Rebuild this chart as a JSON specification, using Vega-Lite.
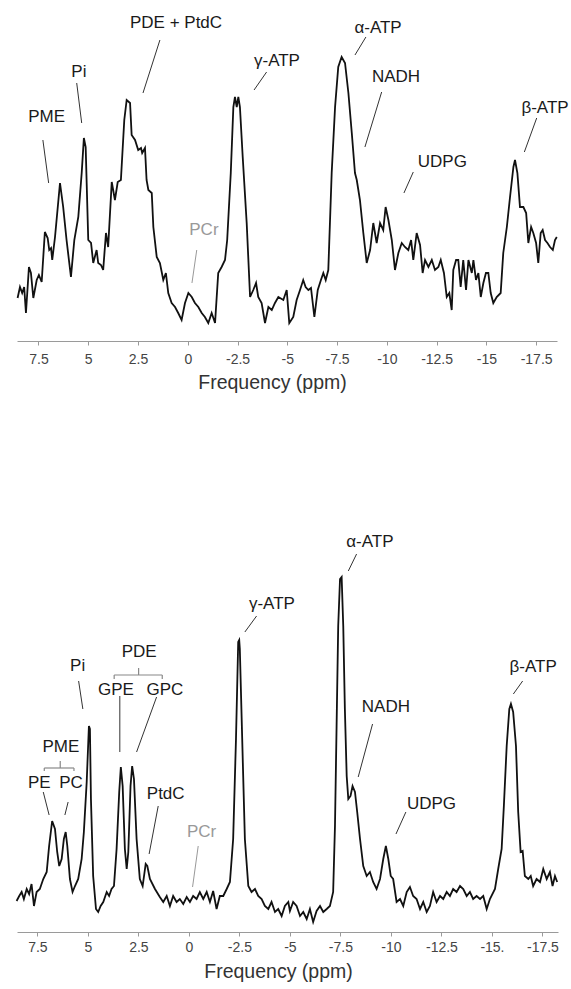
{
  "$schema": "https://vega.github.io/schema/vega-lite/v6.json",
  "padding": {"left": 12, "top": 5, "right": 5, "bottom": 5},
  "background": "white",
  "spacing": 137,
  "config": {
    "view": {"stroke": null},
    "font": "Liberation Sans",
    "axis": {"grid": false, "domainColor": "#9a9a9a", "tickColor": "#9a9a9a", "tickSize": 4, "labelFont": "Liberation Sans", "labelFontSize": 14, "labelColor": "#444", "titleFont": "Liberation Sans", "titleFontSize": 19.5, "titleFontWeight": "normal", "titleColor": "#333", "titleAlign": "center", "titleAnchor": "start"}
  },
  "datasets": {
    "top": [
      {"ppm":8.55,"i":43},{"ppm":8.43,"i":54},{"ppm":8.32,"i":48},{"ppm":8.22,"i":54},{"ppm":8.13,"i":28},{"ppm":7.98,"i":74},{"ppm":7.88,"i":68},{"ppm":7.76,"i":43},{"ppm":7.59,"i":61},{"ppm":7.48,"i":66},{"ppm":7.34,"i":59},{"ppm":7.18,"i":109},{"ppm":7.04,"i":103},{"ppm":6.96,"i":91},{"ppm":6.87,"i":93},{"ppm":6.81,"i":81},{"ppm":6.67,"i":104},{"ppm":6.42,"i":158},{"ppm":6.26,"i":134},{"ppm":6.09,"i":101},{"ppm":5.87,"i":64},{"ppm":5.70,"i":101},{"ppm":5.50,"i":124},{"ppm":5.33,"i":168},{"ppm":5.22,"i":203},{"ppm":5.13,"i":194},{"ppm":5.00,"i":101},{"ppm":4.86,"i":98},{"ppm":4.75,"i":78},{"ppm":4.58,"i":91},{"ppm":4.50,"i":78},{"ppm":4.36,"i":76},{"ppm":4.25,"i":71},{"ppm":4.11,"i":108},{"ppm":4.00,"i":94},{"ppm":3.82,"i":159},{"ppm":3.66,"i":141},{"ppm":3.52,"i":159},{"ppm":3.36,"i":161},{"ppm":3.19,"i":221},{"ppm":3.07,"i":241},{"ppm":2.90,"i":238},{"ppm":2.82,"i":206},{"ppm":2.65,"i":201},{"ppm":2.49,"i":191},{"ppm":2.35,"i":193},{"ppm":2.29,"i":188},{"ppm":2.15,"i":193},{"ppm":2.07,"i":161},{"ppm":1.98,"i":151},{"ppm":1.81,"i":148},{"ppm":1.73,"i":114},{"ppm":1.56,"i":84},{"ppm":1.40,"i":78},{"ppm":1.23,"i":61},{"ppm":1.10,"i":68},{"ppm":0.98,"i":48},{"ppm":0.81,"i":38},{"ppm":0.64,"i":34},{"ppm":0.48,"i":28},{"ppm":0.31,"i":21},{"ppm":0.14,"i":38},{"ppm":-0.03,"i":48},{"ppm":-0.20,"i":44},{"ppm":-0.36,"i":38},{"ppm":-0.53,"i":34},{"ppm":-0.70,"i":28},{"ppm":-0.86,"i":24},{"ppm":-1.03,"i":18},{"ppm":-1.20,"i":28},{"ppm":-1.37,"i":18},{"ppm":-1.53,"i":68},{"ppm":-1.70,"i":74},{"ppm":-1.87,"i":81},{"ppm":-1.98,"i":101},{"ppm":-2.16,"i":168},{"ppm":-2.29,"i":234},{"ppm":-2.37,"i":244},{"ppm":-2.46,"i":234},{"ppm":-2.54,"i":244},{"ppm":-2.62,"i":234},{"ppm":-2.76,"i":184},{"ppm":-2.96,"i":118},{"ppm":-3.13,"i":44},{"ppm":-3.29,"i":51},{"ppm":-3.43,"i":58},{"ppm":-3.54,"i":44},{"ppm":-3.71,"i":38},{"ppm":-3.88,"i":18},{"ppm":-4.05,"i":34},{"ppm":-4.22,"i":31},{"ppm":-4.38,"i":38},{"ppm":-4.55,"i":44},{"ppm":-4.80,"i":41},{"ppm":-4.97,"i":51},{"ppm":-5.10,"i":18},{"ppm":-5.30,"i":24},{"ppm":-5.47,"i":41},{"ppm":-5.64,"i":51},{"ppm":-5.80,"i":61},{"ppm":-5.92,"i":54},{"ppm":-6.06,"i":51},{"ppm":-6.19,"i":53},{"ppm":-6.36,"i":24},{"ppm":-6.53,"i":51},{"ppm":-6.69,"i":61},{"ppm":-6.81,"i":68},{"ppm":-6.93,"i":61},{"ppm":-7.06,"i":71},{"ppm":-7.23,"i":168},{"ppm":-7.40,"i":234},{"ppm":-7.56,"i":274},{"ppm":-7.73,"i":284},{"ppm":-7.90,"i":278},{"ppm":-8.07,"i":248},{"ppm":-8.24,"i":208},{"ppm":-8.40,"i":168},{"ppm":-8.49,"i":161},{"ppm":-8.65,"i":141},{"ppm":-8.82,"i":108},{"ppm":-8.99,"i":78},{"ppm":-9.16,"i":91},{"ppm":-9.32,"i":118},{"ppm":-9.49,"i":98},{"ppm":-9.66,"i":118},{"ppm":-9.82,"i":111},{"ppm":-9.94,"i":134},{"ppm":-10.08,"i":121},{"ppm":-10.25,"i":101},{"ppm":-10.41,"i":71},{"ppm":-10.58,"i":88},{"ppm":-10.75,"i":98},{"ppm":-10.91,"i":94},{"ppm":-11.08,"i":91},{"ppm":-11.22,"i":101},{"ppm":-11.33,"i":81},{"ppm":-11.50,"i":108},{"ppm":-11.67,"i":96},{"ppm":-11.80,"i":68},{"ppm":-11.92,"i":81},{"ppm":-12.09,"i":74},{"ppm":-12.26,"i":81},{"ppm":-12.42,"i":71},{"ppm":-12.59,"i":74},{"ppm":-12.71,"i":81},{"ppm":-12.87,"i":68},{"ppm":-13.01,"i":44},{"ppm":-13.14,"i":48},{"ppm":-13.26,"i":31},{"ppm":-13.34,"i":71},{"ppm":-13.48,"i":81},{"ppm":-13.59,"i":81},{"ppm":-13.71,"i":54},{"ppm":-13.84,"i":81},{"ppm":-13.98,"i":51},{"ppm":-14.10,"i":81},{"ppm":-14.27,"i":68},{"ppm":-14.35,"i":81},{"ppm":-14.48,"i":61},{"ppm":-14.60,"i":68},{"ppm":-14.72,"i":44},{"ppm":-14.85,"i":58},{"ppm":-14.98,"i":68},{"ppm":-15.10,"i":68},{"ppm":-15.22,"i":48},{"ppm":-15.35,"i":38},{"ppm":-15.52,"i":44},{"ppm":-15.72,"i":48},{"ppm":-15.85,"i":88},{"ppm":-16.03,"i":114},{"ppm":-16.19,"i":144},{"ppm":-16.36,"i":174},{"ppm":-16.44,"i":181},{"ppm":-16.56,"i":168},{"ppm":-16.69,"i":134},{"ppm":-16.86,"i":134},{"ppm":-17.00,"i":128},{"ppm":-17.11,"i":98},{"ppm":-17.25,"i":114},{"ppm":-17.36,"i":108},{"ppm":-17.50,"i":98},{"ppm":-17.61,"i":78},{"ppm":-17.73,"i":108},{"ppm":-17.83,"i":111},{"ppm":-17.95,"i":101},{"ppm":-18.07,"i":98},{"ppm":-18.20,"i":94},{"ppm":-18.34,"i":91},{"ppm":-18.45,"i":101},{"ppm":-18.54,"i":104}
    ],
    "bottom": [
      {"ppm":8.53,"i":31},{"ppm":8.40,"i":36},{"ppm":8.28,"i":40},{"ppm":8.17,"i":33},{"ppm":8.03,"i":43},{"ppm":7.91,"i":38},{"ppm":7.79,"i":48},{"ppm":7.67,"i":26},{"ppm":7.54,"i":40},{"ppm":7.38,"i":43},{"ppm":7.21,"i":53},{"ppm":7.04,"i":60},{"ppm":6.92,"i":86},{"ppm":6.77,"i":111},{"ppm":6.63,"i":103},{"ppm":6.52,"i":80},{"ppm":6.42,"i":66},{"ppm":6.30,"i":73},{"ppm":6.19,"i":93},{"ppm":6.10,"i":100},{"ppm":6.02,"i":86},{"ppm":5.89,"i":53},{"ppm":5.76,"i":40},{"ppm":5.64,"i":46},{"ppm":5.48,"i":53},{"ppm":5.31,"i":73},{"ppm":5.20,"i":100},{"ppm":5.06,"i":150},{"ppm":4.95,"i":206},{"ppm":4.90,"i":203},{"ppm":4.85,"i":133},{"ppm":4.74,"i":56},{"ppm":4.60,"i":23},{"ppm":4.49,"i":20},{"ppm":4.37,"i":26},{"ppm":4.24,"i":30},{"ppm":4.07,"i":40},{"ppm":3.95,"i":36},{"ppm":3.83,"i":43},{"ppm":3.71,"i":46},{"ppm":3.58,"i":83},{"ppm":3.45,"i":140},{"ppm":3.37,"i":165},{"ppm":3.28,"i":146},{"ppm":3.17,"i":83},{"ppm":3.08,"i":63},{"ppm":3.00,"i":80},{"ppm":2.89,"i":146},{"ppm":2.81,"i":166},{"ppm":2.72,"i":153},{"ppm":2.59,"i":93},{"ppm":2.43,"i":53},{"ppm":2.29,"i":46},{"ppm":2.14,"i":68},{"ppm":2.06,"i":66},{"ppm":1.93,"i":53},{"ppm":1.68,"i":43},{"ppm":1.44,"i":35},{"ppm":1.27,"i":30},{"ppm":1.10,"i":36},{"ppm":0.94,"i":26},{"ppm":0.78,"i":36},{"ppm":0.61,"i":30},{"ppm":0.45,"i":33},{"ppm":0.28,"i":28},{"ppm":0.11,"i":35},{"ppm":-0.05,"i":30},{"ppm":-0.21,"i":36},{"ppm":-0.38,"i":33},{"ppm":-0.54,"i":40},{"ppm":-0.71,"i":33},{"ppm":-0.88,"i":40},{"ppm":-1.04,"i":30},{"ppm":-1.20,"i":41},{"ppm":-1.37,"i":23},{"ppm":-1.53,"i":36},{"ppm":-1.70,"i":36},{"ppm":-1.87,"i":43},{"ppm":-2.03,"i":50},{"ppm":-2.19,"i":93},{"ppm":-2.33,"i":193},{"ppm":-2.44,"i":290},{"ppm":-2.49,"i":292},{"ppm":-2.52,"i":283},{"ppm":-2.66,"i":176},{"ppm":-2.77,"i":93},{"ppm":-2.94,"i":46},{"ppm":-3.10,"i":40},{"ppm":-3.27,"i":43},{"ppm":-3.43,"i":36},{"ppm":-3.60,"i":33},{"ppm":-3.76,"i":26},{"ppm":-3.93,"i":23},{"ppm":-4.09,"i":30},{"ppm":-4.26,"i":20},{"ppm":-4.42,"i":23},{"ppm":-4.59,"i":16},{"ppm":-4.75,"i":26},{"ppm":-4.92,"i":30},{"ppm":-5.00,"i":21},{"ppm":-5.16,"i":30},{"ppm":-5.33,"i":26},{"ppm":-5.50,"i":16},{"ppm":-5.66,"i":20},{"ppm":-5.83,"i":13},{"ppm":-5.99,"i":23},{"ppm":-6.15,"i":10},{"ppm":-6.32,"i":21},{"ppm":-6.49,"i":26},{"ppm":-6.65,"i":20},{"ppm":-6.82,"i":23},{"ppm":-6.98,"i":26},{"ppm":-7.14,"i":40},{"ppm":-7.23,"i":106},{"ppm":-7.31,"i":206},{"ppm":-7.39,"i":306},{"ppm":-7.48,"i":353},{"ppm":-7.56,"i":355},{"ppm":-7.64,"i":306},{"ppm":-7.72,"i":223},{"ppm":-7.81,"i":156},{"ppm":-7.89,"i":133},{"ppm":-8.00,"i":136},{"ppm":-8.10,"i":146},{"ppm":-8.22,"i":140},{"ppm":-8.33,"i":120},{"ppm":-8.47,"i":93},{"ppm":-8.63,"i":66},{"ppm":-8.80,"i":56},{"ppm":-8.96,"i":60},{"ppm":-9.12,"i":50},{"ppm":-9.29,"i":43},{"ppm":-9.46,"i":53},{"ppm":-9.62,"i":73},{"ppm":-9.75,"i":86},{"ppm":-9.87,"i":73},{"ppm":-9.99,"i":56},{"ppm":-10.11,"i":53},{"ppm":-10.28,"i":30},{"ppm":-10.45,"i":33},{"ppm":-10.61,"i":26},{"ppm":-10.78,"i":40},{"ppm":-10.94,"i":45},{"ppm":-11.10,"i":36},{"ppm":-11.27,"i":33},{"ppm":-11.44,"i":23},{"ppm":-11.60,"i":30},{"ppm":-11.77,"i":20},{"ppm":-11.93,"i":26},{"ppm":-12.09,"i":40},{"ppm":-12.26,"i":30},{"ppm":-12.43,"i":36},{"ppm":-12.59,"i":33},{"ppm":-12.76,"i":40},{"ppm":-12.92,"i":36},{"ppm":-13.08,"i":43},{"ppm":-13.25,"i":40},{"ppm":-13.42,"i":46},{"ppm":-13.58,"i":43},{"ppm":-13.75,"i":36},{"ppm":-13.91,"i":40},{"ppm":-14.07,"i":33},{"ppm":-14.24,"i":36},{"ppm":-14.41,"i":33},{"ppm":-14.57,"i":36},{"ppm":-14.74,"i":23},{"ppm":-14.90,"i":33},{"ppm":-15.15,"i":43},{"ppm":-15.31,"i":63},{"ppm":-15.48,"i":83},{"ppm":-15.59,"i":126},{"ppm":-15.73,"i":186},{"ppm":-15.86,"i":223},{"ppm":-15.94,"i":228},{"ppm":-16.05,"i":220},{"ppm":-16.19,"i":186},{"ppm":-16.30,"i":120},{"ppm":-16.42,"i":80},{"ppm":-16.52,"i":81},{"ppm":-16.63,"i":56},{"ppm":-16.80,"i":53},{"ppm":-16.92,"i":56},{"ppm":-17.04,"i":46},{"ppm":-17.21,"i":53},{"ppm":-17.38,"i":50},{"ppm":-17.54,"i":63},{"ppm":-17.71,"i":53},{"ppm":-17.87,"i":60},{"ppm":-18.00,"i":46},{"ppm":-18.12,"i":56},{"ppm":-18.23,"i":50}
    ],
    "topLabels": [
      {"label":"PME","ppm":7.09,"i":224},{"label":"Pi","ppm":5.47,"i":269},{"label":"PDE + PtdC","ppm":0.59,"i":318},{"label":"γ-ATP","ppm":-4.48,"i":280},{"label":"PCr","ppm":-0.81,"i":111},{"label":"α-ATP","ppm":-9.56,"i":313},{"label":"NADH","ppm":-10.46,"i":264},{"label":"UDPG","ppm":-12.79,"i":179},{"label":"β-ATP","ppm":-17.95,"i":233}
    ],
    "topLeaders": [
      {"label":"PME","ppm1":7.28,"i1":201,"ppm2":6.99,"i2":158},{"label":"Pi","ppm1":5.58,"i1":258,"ppm2":5.33,"i2":218},{"label":"PDE + PtdC","ppm1":1.40,"i1":301,"ppm2":2.25,"i2":248},{"label":"γ-ATP","ppm1":-3.96,"i1":269,"ppm2":-3.33,"i2":251},{"label":"PCr","ppm1":-0.45,"i1":91,"ppm2":-0.21,"i2":58},{"label":"α-ATP","ppm1":-8.95,"i1":304,"ppm2":-8.40,"i2":286},{"label":"NADH","ppm1":-9.74,"i1":249,"ppm2":-8.90,"i2":194},{"label":"UDPG","ppm1":-11.33,"i1":169,"ppm2":-10.86,"i2":148},{"label":"β-ATP","ppm1":-17.53,"i1":223,"ppm2":-16.91,"i2":189}
    ],
    "bottomLabels": [
      {"label":"Pi","ppm":5.51,"i":266},{"label":"PDE","ppm":2.46,"i":280},{"label":"GPE","ppm":3.61,"i":242},{"label":"GPC","ppm":1.19,"i":242},{"label":"PME","ppm":6.34,"i":185},{"label":"PE","ppm":7.41,"i":149},{"label":"PC","ppm":5.84,"i":149},{"label":"PtdC","ppm":1.15,"i":138},{"label":"PCr","ppm":-0.63,"i":100},{"label":"γ-ATP","ppm":-4.11,"i":328},{"label":"α-ATP","ppm":-8.96,"i":390},{"label":"NADH","ppm":-9.75,"i":225},{"label":"UDPG","ppm":-12.01,"i":128},{"label":"β-ATP","ppm":-17.04,"i":265}
    ],
    "bottomLeaders": [
      {"label":"Pi","ppm1":5.46,"i1":251,"ppm2":5.25,"i2":223},{"label":"GPE","ppm1":3.42,"i1":236,"ppm2":3.42,"i2":180},{"label":"GPC","ppm1":1.60,"i1":235,"ppm2":2.59,"i2":180},{"label":"PE","ppm1":7.21,"i1":140,"ppm2":6.92,"i2":117},{"label":"PC","ppm1":5.98,"i1":130,"ppm2":6.14,"i2":117},{"label":"PtdC","ppm1":1.52,"i1":126,"ppm2":1.97,"i2":78},{"label":"PCr","ppm1":-0.46,"i1":86,"ppm2":-0.18,"i2":45},{"label":"γ-ATP","ppm1":-3.35,"i1":316,"ppm2":-2.77,"i2":300},{"label":"α-ATP","ppm1":-8.30,"i1":378,"ppm2":-7.89,"i2":361},{"label":"NADH","ppm1":-9.09,"i1":208,"ppm2":-8.38,"i2":155},{"label":"UDPG","ppm1":-10.74,"i1":120,"ppm2":-10.25,"i2":98},{"label":"β-ATP","ppm1":-16.52,"i1":251,"ppm2":-16.06,"i2":238}
    ],
    "brackets": [
      {"group":"PDE","ppm1":3.70,"i1":257,"ppm2":1.32,"i2":257},{"group":"PDE","ppm1":2.49,"i1":264,"ppm2":2.49,"i2":257},{"group":"PDE","ppm1":3.70,"i1":257,"ppm2":3.70,"i2":253},{"group":"PDE","ppm1":1.32,"i1":257,"ppm2":1.32,"i2":253},
      {"group":"PME","ppm1":7.16,"i1":164,"ppm2":5.69,"i2":164},{"group":"PME","ppm1":6.37,"i1":171,"ppm2":6.37,"i2":164},{"group":"PME","ppm1":7.16,"i1":164,"ppm2":7.16,"i2":161},{"group":"PME","ppm1":5.69,"i1":164,"ppm2":5.69,"i2":161}
    ]
  },
  "vconcat": [
    {
      "width": 540,
      "height": 336,
      "layer": [
        {
          "data": {"name": "top"},
          "mark": {"type": "line", "color": "#111", "strokeWidth": 1.8},
          "encoding": {
            "x": {"field": "ppm", "type": "quantitative", "scale": {"domain": [8.58, -18.55], "nice": false, "zero": false},
                  "axis": {"title": "Frequency (ppm)", "values": [7.5, 5, 2.5, 0, -2.5, -5, -7.5, -10, -12.5, -15, -17.5], "labelExpr": "'' + datum.value", "labelPadding": 7, "titlePadding": 7, "titleX": 255}},
            "y": {"field": "i", "type": "quantitative", "scale": {"domain": [0, 336], "nice": false, "zero": false}, "axis": null}
          }
        },
        {
          "data": {"name": "topLeaders"},
          "transform": [{"filter": "datum.label != 'PCr'"}],
          "mark": {"type": "rule", "color": "#333", "strokeWidth": 1},
          "encoding": {
            "x": {"field": "ppm1", "type": "quantitative", "scale": {"domain": [8.58, -18.55], "nice": false, "zero": false},
                  "axis": {"title": "Frequency (ppm)", "values": [7.5, 5, 2.5, 0, -2.5, -5, -7.5, -10, -12.5, -15, -17.5], "labelExpr": "'' + datum.value", "labelPadding": 7, "titlePadding": 7, "titleX": 255}},
            "x2": {"field": "ppm2"},
            "y": {"field": "i1", "type": "quantitative", "scale": {"domain": [0, 336], "nice": false, "zero": false}, "axis": null},
            "y2": {"field": "i2"}
          }
        },
        {
          "data": {"name": "topLeaders"},
          "transform": [{"filter": "datum.label == 'PCr'"}],
          "mark": {"type": "rule", "color": "#999", "strokeWidth": 1},
          "encoding": {
            "x": {"field": "ppm1", "type": "quantitative", "scale": {"domain": [8.58, -18.55], "nice": false, "zero": false},
                  "axis": {"title": "Frequency (ppm)", "values": [7.5, 5, 2.5, 0, -2.5, -5, -7.5, -10, -12.5, -15, -17.5], "labelExpr": "'' + datum.value", "labelPadding": 7, "titlePadding": 7, "titleX": 255}},
            "x2": {"field": "ppm2"},
            "y": {"field": "i1", "type": "quantitative", "scale": {"domain": [0, 336], "nice": false, "zero": false}, "axis": null},
            "y2": {"field": "i2"}
          }
        },
        {
          "data": {"name": "topLabels"},
          "mark": {"type": "text", "fontSize": 17, "baseline": "middle", "align": "center", "font": "Liberation Sans"},
          "encoding": {
            "x": {"field": "ppm", "type": "quantitative", "scale": {"domain": [8.58, -18.55], "nice": false, "zero": false},
                  "axis": {"title": "Frequency (ppm)", "values": [7.5, 5, 2.5, 0, -2.5, -5, -7.5, -10, -12.5, -15, -17.5], "labelExpr": "'' + datum.value", "labelPadding": 7, "titlePadding": 7, "titleX": 255}},
            "y": {"field": "i", "type": "quantitative", "scale": {"domain": [0, 336], "nice": false, "zero": false}, "axis": null},
            "text": {"field": "label"},
            "color": {"condition": {"test": "datum.label == 'PCr'", "value": "#999"}, "value": "#1a1a1a"}
          }
        }
      ]
    },
    {
      "width": 541,
      "height": 403,
      "layer": [
        {
          "data": {"name": "bottom"},
          "mark": {"type": "line", "color": "#111", "strokeWidth": 1.8},
          "encoding": {
            "x": {"field": "ppm", "type": "quantitative", "scale": {"domain": [8.51, -18.27], "nice": false, "zero": false},
                  "axis": {"title": "Frequency (ppm)", "values": [7.5, 5, 2.5, 0, -2.5, -5, -7.5, -10, -12.5, -15, -17.5], "labelExpr": "datum.value == -15 ? '-15.' : '' + datum.value", "labelPadding": 4, "titlePadding": 8, "titleX": 261}},
            "y": {"field": "i", "type": "quantitative", "scale": {"domain": [0, 403], "nice": false, "zero": false}, "axis": null}
          }
        },
        {
          "data": {"name": "brackets"},
          "mark": {"type": "rule", "color": "#888", "strokeWidth": 1.2},
          "encoding": {
            "x": {"field": "ppm1", "type": "quantitative", "scale": {"domain": [8.51, -18.27], "nice": false, "zero": false},
                  "axis": {"title": "Frequency (ppm)", "values": [7.5, 5, 2.5, 0, -2.5, -5, -7.5, -10, -12.5, -15, -17.5], "labelExpr": "datum.value == -15 ? '-15.' : '' + datum.value", "labelPadding": 4, "titlePadding": 8, "titleX": 261}},
            "x2": {"field": "ppm2"},
            "y": {"field": "i1", "type": "quantitative", "scale": {"domain": [0, 403], "nice": false, "zero": false}, "axis": null},
            "y2": {"field": "i2"}
          }
        },
        {
          "data": {"name": "bottomLeaders"},
          "transform": [{"filter": "datum.label != 'PCr'"}],
          "mark": {"type": "rule", "color": "#333", "strokeWidth": 1},
          "encoding": {
            "x": {"field": "ppm1", "type": "quantitative", "scale": {"domain": [8.51, -18.27], "nice": false, "zero": false},
                  "axis": {"title": "Frequency (ppm)", "values": [7.5, 5, 2.5, 0, -2.5, -5, -7.5, -10, -12.5, -15, -17.5], "labelExpr": "datum.value == -15 ? '-15.' : '' + datum.value", "labelPadding": 4, "titlePadding": 8, "titleX": 261}},
            "x2": {"field": "ppm2"},
            "y": {"field": "i1", "type": "quantitative", "scale": {"domain": [0, 403], "nice": false, "zero": false}, "axis": null},
            "y2": {"field": "i2"}
          }
        },
        {
          "data": {"name": "bottomLeaders"},
          "transform": [{"filter": "datum.label == 'PCr'"}],
          "mark": {"type": "rule", "color": "#999", "strokeWidth": 1},
          "encoding": {
            "x": {"field": "ppm1", "type": "quantitative", "scale": {"domain": [8.51, -18.27], "nice": false, "zero": false},
                  "axis": {"title": "Frequency (ppm)", "values": [7.5, 5, 2.5, 0, -2.5, -5, -7.5, -10, -12.5, -15, -17.5], "labelExpr": "datum.value == -15 ? '-15.' : '' + datum.value", "labelPadding": 4, "titlePadding": 8, "titleX": 261}},
            "x2": {"field": "ppm2"},
            "y": {"field": "i1", "type": "quantitative", "scale": {"domain": [0, 403], "nice": false, "zero": false}, "axis": null},
            "y2": {"field": "i2"}
          }
        },
        {
          "data": {"name": "bottomLabels"},
          "mark": {"type": "text", "fontSize": 17, "baseline": "middle", "align": "center", "font": "Liberation Sans"},
          "encoding": {
            "x": {"field": "ppm", "type": "quantitative", "scale": {"domain": [8.51, -18.27], "nice": false, "zero": false},
                  "axis": {"title": "Frequency (ppm)", "values": [7.5, 5, 2.5, 0, -2.5, -5, -7.5, -10, -12.5, -15, -17.5], "labelExpr": "datum.value == -15 ? '-15.' : '' + datum.value", "labelPadding": 4, "titlePadding": 8, "titleX": 261}},
            "y": {"field": "i", "type": "quantitative", "scale": {"domain": [0, 403], "nice": false, "zero": false}, "axis": null},
            "text": {"field": "label"},
            "color": {"condition": {"test": "datum.label == 'PCr'", "value": "#999"}, "value": "#1a1a1a"}
          }
        }
      ]
    }
  ]
}
